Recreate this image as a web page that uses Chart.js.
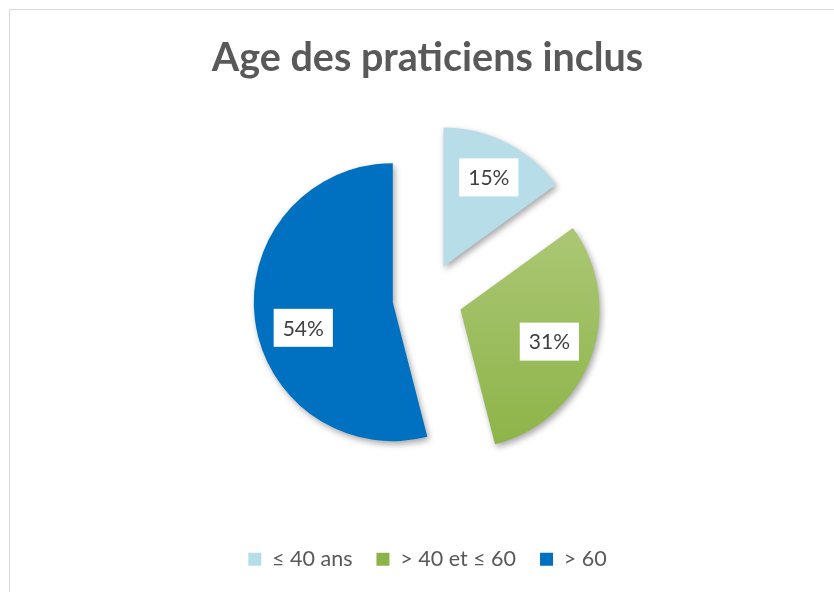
<!DOCTYPE html>
<html><head><meta charset="utf-8">
<script src="https://cdn.jsdelivr.net/npm/chart.js@4/dist/chart.umd.min.js"></script>
<style>
html,body{margin:0;padding:0;background:#fff;}
#wrap{position:relative;width:834px;height:592px;overflow:hidden;background:#fff;}
#frame{position:absolute;left:9px;top:9px;width:900px;height:700px;border:1.5px solid #d9d9d9;box-sizing:border-box;}
canvas{position:absolute;left:0;top:0;}
</style></head><body>
<div id="wrap"><div id="frame"></div><canvas id="c" width="834" height="592"></canvas></div>
<script>
const chartTitle = 'Age des praticiens inclus';
const categories = ['≤ 40 ans', '> 40 et ≤ 60', '> 60'];
const percentages = [15, 31, 54];
const valueLabels = ['15%', '31%', '54%'];

const sliceColors = ['#b7dee8', null, '#0070c0'];

function greenFill(ctx) {
  const chart = ctx.chart;
  const area = chart.chartArea;
  if (!area) return '#9bbb59';
  const cy = (area.top + area.bottom) / 2;
  const g = chart.ctx.createLinearGradient(0, cy - 70, 0, cy + 150);
  g.addColorStop(0, '#aac672');
  g.addColorStop(1, '#8bb346');
  return g;
}

// Chart.js shrinks/trims exploded slices differently depending on their angle;
// undo that so every exploded slice keeps the dataset radius and its full angle.
const uniformRadiusPlugin = {
  id: 'uniformRadius',
  beforeDatasetsDraw(chart) {
    const meta = chart.getDatasetMeta(0);
    const base = meta.controller.outerRadius;
    meta.data.forEach(arc => {
      if (arc._uniformDone) return;
      const o = (arc.options.offset || 0) / 4;
      const fix = 1 - Math.sin(Math.min(Math.PI, arc.circumference || 0));
      const ro = o * fix;
      const trim = (ro / Math.PI) / (2 * base);
      arc.outerRadius = base - ro;
      arc.startAngle -= trim;
      arc.endAngle += trim;
      arc._uniformDone = true;
    });
  }
};

const shadowPlugin = {
  id: 'sliceShadow',
  beforeDatasetsDraw(chart) {
    const c = chart.ctx;
    c.save();
    c.shadowColor = 'rgba(0,0,0,0.35)';
    c.shadowBlur = 6;
    c.shadowOffsetX = 2;
    c.shadowOffsetY = 3;
  },
  afterDatasetsDraw(chart) {
    chart.ctx.restore();
  }
};

const valueLabelPlugin = {
  id: 'valueLabels',
  afterDatasetsDraw(chart, args, opts) {
    const c = chart.ctx;
    const meta = chart.getDatasetMeta(0);
    const base = meta.controller.outerRadius;
    c.save();
    c.font = '21px Lato, "Open Sans", sans-serif';
    c.textAlign = 'center';
    c.textBaseline = 'middle';
    meta.data.forEach((arc, i) => {
      const p = arc.getProps(['x', 'y', 'startAngle', 'endAngle']);
      const half = (p.startAngle + p.endAngle) / 2;
      const off = (arc.options.offset || 0) / 4;
      const ang = half + (opts.angleShift[i] || 0) * Math.PI / 180;
      const cx = p.x + Math.cos(half) * off;
      const cy = p.y + Math.sin(half) * off;
      const lx = cx + Math.cos(ang) * opts.radial[i] * base;
      const ly = cy + Math.sin(ang) * opts.radial[i] * base;
      const w = c.measureText(valueLabels[i]).width + 18;
      const h = 38;
      c.fillStyle = '#ffffff';
      c.fillRect(lx - w / 2, ly - h / 2, w, h);
      c.fillStyle = '#404040';
      c.fillText(valueLabels[i], lx, ly + 1);
    });
    c.restore();
  }
};

new Chart(document.getElementById('c'), {
  type: 'pie',
  data: {
    labels: categories,
    datasets: [{
      data: percentages,
      backgroundColor: (ctx) => ctx.dataIndex === 1 ? greenFill(ctx) : sliceColors[ctx.dataIndex],
      borderWidth: 0,
      offset: 140,
      radius: 139
    }]
  },
  options: {
    responsive: false,
    devicePixelRatio: 1,
    animation: false,
    layout: { padding: { left: 21, right: 0, top: 0, bottom: 12 } },
    plugins: {
      title: {
        display: true,
        text: chartTitle,
        color: '#595959',
        font: { family: 'Lato, "Open Sans", sans-serif', size: 39.5, weight: 'bold', lineHeight: 1.0 },
        padding: { top: 38.5, bottom: -7 }
      },
      legend: {
        position: 'bottom',
        labels: {
          color: '#595959',
          font: { family: 'Lato, "Open Sans", sans-serif', size: 21.5 },
          boxWidth: 13,
          boxHeight: 13,
          padding: 24
        }
      },
      valueLabels: { radial: [0.72, 0.68, 0.67], angleShift: [0, 0, -8.8] },
      tooltip: { enabled: false }
    }
  },
  plugins: [uniformRadiusPlugin, shadowPlugin, valueLabelPlugin]
});
</script>
</body></html>
